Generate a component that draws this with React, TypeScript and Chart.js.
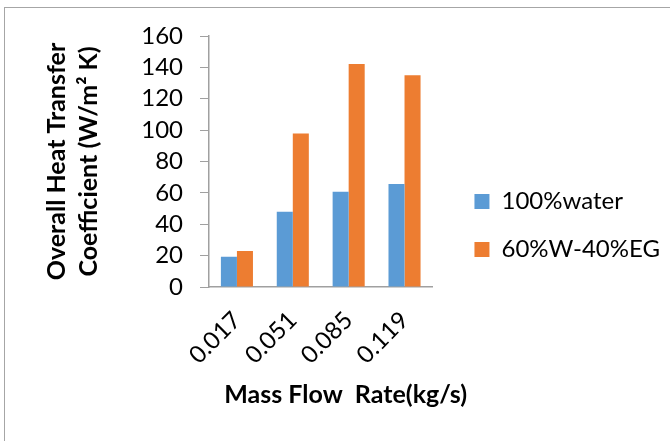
import React, { useEffect, useRef } from 'react';
import { Chart, registerables } from 'chart.js';

Chart.register(...registerables);

const categories = ['0.017', '0.051', '0.085', '0.119'];
const waterValues = [19.3, 47.9, 60.7, 65.6];
const glycolValues = [22.9, 97.8, 142.2, 135.0];
const seriesNames = ['100%water', '60%W-40%EG'];
const seriesColors = ['#5B9BD5', '#ED7D31'];
const yTickValues = [0, 20, 40, 60, 80, 100, 120, 140, 160];
const yTitle = ['Overall Heat Transfer', 'Coefficient (W/m\u00B2 K)'];
const xTitle = 'Mass Flow  Rate(kg/s)';

const FONT = 'Lato';
const AXIS_COLOR = '#a0a0a0';
const TICK_SIZE = 24;
const TITLE_SIZE = 25;
const LEGEND_SIZE = 24;
const LEGEND_PAD = 24;
const LEGEND_BOX = 15;
const LEGEND_LEFT = 450;
const PLOT_RIGHT = 432;

const titlesPlugin = {
  id: 'axisTitlesCustom',
  afterDraw(chart: any) {
    const { ctx, chartArea } = chart;
    ctx.save();
    ctx.font = `bold ${TITLE_SIZE}px ${FONT}`;
    ctx.fillStyle = '#000';
    ctx.textAlign = 'center';
    ctx.textBaseline = 'alphabetic';
    // x axis title
    ctx.fillText(xTitle, (chartArea.left + chartArea.right) / 2 + 25, 403);
    // y axis title (two lines, rotated)
    const cy = (chartArea.top + chartArea.bottom) / 2;
    ctx.translate(0, cy);
    ctx.rotate(-Math.PI / 2);
    ctx.fillText(yTitle[0], 0, 65);
    ctx.fillText(yTitle[1], 0, 97);
    ctx.restore();
  },
};

export default function App() {
  const canvasRef = useRef<HTMLCanvasElement | null>(null);

  useEffect(() => {
    if (!canvasRef.current) return;
    const m = document.createElement('canvas').getContext('2d') as CanvasRenderingContext2D;
    m.font = `${LEGEND_SIZE}px ${FONT}`;
    const textW = Math.max(...seriesNames.map((s) => m.measureText(s).width));
    const legendW = Math.ceil(LEGEND_PAD + LEGEND_BOX + LEGEND_SIZE / 2 + textW + 10);
    const padRight = Math.max(0, 670 - LEGEND_LEFT - legendW);

    const chart = new Chart(canvasRef.current, {
      type: 'bar',
      data: {
        labels: categories,
        datasets: [
          {
            label: seriesNames[0],
            data: waterValues,
            backgroundColor: seriesColors[0],
            borderWidth: 0,
            xAxisID: 'x',
            yAxisID: 'y',
          },
          {
            label: seriesNames[1],
            data: glycolValues,
            backgroundColor: seriesColors[1],
            borderWidth: 0,
            xAxisID: 'x',
            yAxisID: 'y',
          },
        ],
      },
      options: {
        responsive: false,
        animation: false,
        devicePixelRatio: 1,
        layout: { padding: { left: 0, top: 36, right: padRight, bottom: 26 } },
        datasets: {
          bar: { categoryPercentage: 0.574, barPercentage: 1 },
        },
        plugins: {
          tooltip: { enabled: false },
          legend: {
            position: 'right',
            maxWidth: legendW,
            labels: {
              font: { family: FONT, size: LEGEND_SIZE },
              color: '#000',
              boxWidth: LEGEND_BOX,
              boxHeight: LEGEND_BOX,
              padding: LEGEND_PAD,
            },
          },
        },
        scales: {
          x: {
            type: 'category',
            position: 'bottom',
            grid: { display: false },
            border: { display: true, color: AXIS_COLOR, width: 1.5 },
            ticks: {
              font: { family: FONT, size: TICK_SIZE },
              color: '#000',
              minRotation: 45,
              maxRotation: 45,
              autoSkip: false,
              padding: 11,
            },
            afterFit: (s: any) => {
              s.height = 128;
            },
          },
          y: {
            type: 'linear',
            position: 'left',
            min: yTickValues[0],
            max: yTickValues[yTickValues.length - 1],
            grid: {
              display: true,
              drawOnChartArea: false,
              drawTicks: true,
              tickLength: 9,
              color: AXIS_COLOR,
              lineWidth: 1,
            },
            border: { display: true, color: AXIS_COLOR, width: 1.5 },
            ticks: {
              autoSkip: false,
              font: { family: FONT, size: TICK_SIZE },
              color: '#000',
              padding: 17,
            },
            afterBuildTicks: (s: any) => {
              s.ticks = yTickValues.map((v) => ({ value: v }));
            },
            afterFit: (s: any) => {
              s.width = 209;
            },
          },
          spacer: {
            type: 'linear',
            position: 'right',
            display: true,
            grid: { display: false },
            border: { display: false },
            ticks: { display: false },
            afterFit: (s: any) => {
              s.width = LEGEND_LEFT - PLOT_RIGHT;
            },
          },
        },
      },
      plugins: [titlesPlugin],
    } as any);
    return () => chart.destroy();
  }, []);

  return (
    <div style={{ position: 'fixed', left: 0, top: 0, width: 670, height: 441, background: '#fff' }}>
      <canvas ref={canvasRef} width={670} height={441} style={{ display: 'block' }} />
      <div
        style={{
          position: 'absolute',
          left: 4,
          top: 7,
          right: 0,
          bottom: 0,
          borderTop: '1px solid #a6a6a6',
          borderLeft: '1px solid #a6a6a6',
          pointerEvents: 'none',
        }}
      />
    </div>
  );
}
